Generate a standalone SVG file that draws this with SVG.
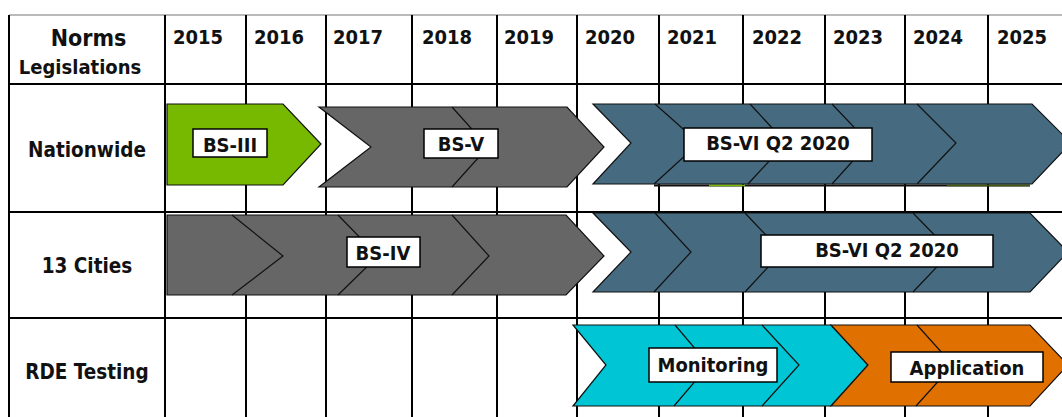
<svg xmlns="http://www.w3.org/2000/svg" width="1062" height="417" viewBox="0 0 1062 417">
  <style>
    text { font-family: "DejaVu Sans Condensed", "DejaVu Sans", sans-serif; font-stretch: condensed; font-weight: bold; fill: #111; }
    .yr { font-size: 20px; }
    .row { font-size: 20.5px; text-anchor: middle; }
    .lbl { font-size: 20px; text-anchor: middle; }
    .grid { stroke: #000; stroke-width: 2; fill: none; }
    .chev { stroke: #111; stroke-width: 1.2; stroke-linejoin: miter; }
    .seam { stroke: #111; stroke-width: 1.2; fill: none; }
    .box { fill: #fff; stroke: #000; stroke-width: 1.5; }
    .green { fill: #76B900; }
    .gray { fill: #666666; }
    .steel { fill: #466A7F; }
    .cyan { fill: #00C5D5; }
    .orange { fill: #E07000; }
  </style>

  <rect width="1062" height="417" fill="#fff"/>

  <!-- table grid -->
  <g id="grid">
    <line x1="9" y1="15" x2="1062" y2="15" stroke="#777" stroke-width="1.2"/>
    <g class="grid">
      <line x1="9" y1="84" x2="1062" y2="84"/>
      <line x1="9" y1="212" x2="1062" y2="212"/>
      <line x1="9" y1="318" x2="1062" y2="318"/>
      <line x1="9" y1="15" x2="9" y2="417"/>
      <line x1="165" y1="15" x2="165" y2="417"/>
      <line x1="246" y1="15" x2="246" y2="417"/>
      <line x1="326" y1="15" x2="326" y2="417"/>
      <line x1="412" y1="15" x2="412" y2="417"/>
      <line x1="497" y1="15" x2="497" y2="417"/>
      <line x1="577" y1="15" x2="577" y2="417"/>
      <line x1="659" y1="15" x2="659" y2="417"/>
      <line x1="743" y1="15" x2="743" y2="417"/>
      <line x1="825" y1="15" x2="825" y2="417"/>
      <line x1="905" y1="15" x2="905" y2="417"/>
      <line x1="988" y1="15" x2="988" y2="417"/>
    </g>
  </g>

  <!-- header row -->
  <g id="header">
    <text x="88.5" y="46" style="font-size:23px" text-anchor="middle">Norms</text>
    <text x="80" y="74" style="font-size:20px" text-anchor="middle">Legislations</text>
    <text class="yr" x="173" y="44">2015</text>
    <text class="yr" x="254" y="44">2016</text>
    <text class="yr" x="333" y="44">2017</text>
    <text class="yr" x="422" y="44">2018</text>
    <text class="yr" x="504" y="44">2019</text>
    <text class="yr" x="585" y="44">2020</text>
    <text class="yr" x="667" y="44">2021</text>
    <text class="yr" x="752" y="44">2022</text>
    <text class="yr" x="833" y="44">2023</text>
    <text class="yr" x="913" y="44">2024</text>
    <text class="yr" x="997" y="44">2025</text>
  </g>

  <!-- row titles -->
  <g id="row-nationwide"><text class="row" x="87" y="157">Nationwide</text></g>
  <g id="row-cities"><text class="row" x="87" y="273">13 Cities</text></g>
  <g id="row-rde"><text class="row" x="87" y="379">RDE Testing</text></g>

  <!-- Nationwide: BS-III -->
  <g id="bs3">
    <polygon class="chev green" points="167,104 283,104 321,144 283,185 167,185"/>
    <rect class="box" x="193" y="129" width="74" height="28"/>
    <text class="lbl" x="230" y="152">BS-III</text>
  </g>

  <!-- Nationwide: BS-V -->
  <g id="bs5">
    <polygon class="chev gray" points="319,107 567,107 604,147 567,187 319,187 371,147"/>
    <polyline class="seam" points="452,107 488,147 452,187"/>
    <rect class="box" x="424" y="129" width="74" height="29"/>
    <text class="lbl" x="461" y="151">BS-V</text>
  </g>

  <!-- Nationwide: BS-VI -->
  <g id="bs6-nationwide">
    <polygon class="chev steel" points="593,104 1032,104 1071,143 1032,184 593,184 631,143"/>
    <polyline class="seam" points="655,104 699,143 654,184"/>
    <polyline class="seam" points="750,104 786,143 748,184"/>
    <polyline class="seam" points="832,104 869,143 832,184"/>
    <polyline class="seam" points="917,104 956,143 917,184"/>
    <line x1="654" y1="185.5" x2="1030" y2="185.5" stroke="#111" stroke-width="2"/>
    <line x1="709" y1="185.5" x2="745" y2="185.5" stroke="#76B900" stroke-width="1.5"/>
    <line x1="947" y1="185.5" x2="1030" y2="185.5" stroke="#3C5A10" stroke-width="1.5"/>
    <rect class="box" x="684" y="128" width="188" height="33"/>
    <text class="lbl" x="778" y="150">BS-VI Q2 2020</text>
  </g>

  <!-- 13 Cities: BS-IV -->
  <g id="bs4">
    <polygon class="chev gray" points="167,215 566,215 604,256 566,295 167,295"/>
    <polyline class="seam" points="232,215 283,256 232,295"/>
    <polyline class="seam" points="338,215 378,256 338,295"/>
    <polyline class="seam" points="452,215 489,256 452,295"/>
    <rect class="box" x="347" y="237" width="73" height="30"/>
    <text class="lbl" x="383" y="260">BS-IV</text>
  </g>

  <!-- 13 Cities: BS-VI -->
  <g id="bs6-cities">
    <polygon class="chev steel" points="593,213 1030,213 1068,252 1030,292 593,292 631,252"/>
    <polyline class="seam" points="655,213 691,252 654,292"/>
    <polyline class="seam" points="745,213 782,252 745,292"/>
    <polyline class="seam" points="913,213 951,252 913,292"/>
    <rect class="box" x="761" y="235" width="232" height="32"/>
    <text class="lbl" x="887" y="257">BS-VI Q2 2020</text>
  </g>

  <!-- RDE Testing: Monitoring -->
  <g id="monitoring">
    <polygon class="chev cyan" points="573,325 831,325 868,365 831,406 573,406 606,365"/>
    <polyline class="seam" points="675,325 709,365 674,406"/>
    <polyline class="seam" points="762,325 799,365 762,406"/>
    <rect class="box" x="649" y="348" width="128" height="34"/>
    <text class="lbl" x="713" y="372">Monitoring</text>
  </g>

  <!-- RDE Testing: Application -->
  <g id="application">
    <polygon class="chev orange" points="831,325 1030,325 1068,365 1030,406 831,406 868,365"/>
    <polyline class="seam" points="917,325 953,365 916,406"/>
    <rect class="box" x="891" y="352" width="152" height="30"/>
    <text class="lbl" x="967" y="375">Application</text>
  </g>

  <!-- no connectors in this chart -->
  <g id="connectors"/>
</svg>
